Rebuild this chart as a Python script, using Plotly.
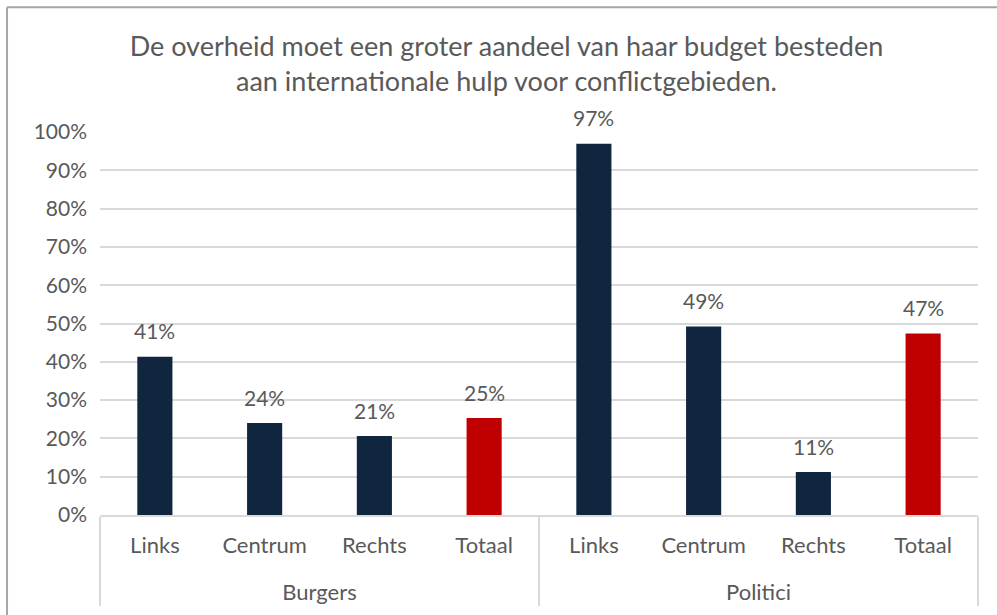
import plotly.graph_objects as go

groups = ["Burgers"] * 4 + ["Politici"] * 4
categories = ["Links", "Centrum", "Rechts", "Totaal"] * 2
values = [0.413, 0.240, 0.206, 0.253, 0.969, 0.492, 0.112, 0.474]
colors = ["#10263F", "#10263F", "#10263F", "#C00000",
          "#10263F", "#10263F", "#10263F", "#C00000"]
y_ticks = [i / 10 for i in range(11)]
title_text = ("De overheid moet een groter aandeel van haar budget besteden<br>"
              "aan internationale hulp voor conflictgebieden.")

FONT = "Lato"
GRAY = "#595959"

# display labels: extra small spacer line pushes the group level down
cat_labels = [c + "<br><span style='font-size:17px'> </span>" for c in categories]

fig = go.Figure(go.Bar(
    x=[groups, cat_labels],
    y=values,
    marker=dict(color=colors, line=dict(width=0)),
    cliponaxis=False,
    hovertemplate="%{y:.0%}<extra></extra>",
))

# value labels placed at each bar's top through the axes
for i, v in enumerate(values):
    fig.add_annotation(x=i, y=v, xref="x", yref="y", text=f"{v:.0%}",
                       showarrow=False, yanchor="middle", yshift=26,
                       font=dict(family=FONT, size=21, color=GRAY))

fig.update_layout(
    width=997, height=615,
    margin=dict(l=100, r=19, t=132, b=100),
    paper_bgcolor="white", plot_bgcolor="white",
    showlegend=False,
    bargap=0.68,
    title=dict(text=title_text, x=0.508, xanchor="center", y=0.9096, yanchor="middle",
               font=dict(family=FONT, size=27, color=GRAY)),
    font=dict(family=FONT, color=GRAY),
    yaxis=dict(range=[0, 1], tickvals=y_ticks, tickformat=".0%",
               showgrid=True, gridcolor="#D9D9D9", gridwidth=2,
               zeroline=False, showline=False, ticks="",
               tickfont=dict(family=FONT, size=21, color=GRAY),
               ticklabelstandoff=12),
    xaxis=dict(type="multicategory", showline=True, linecolor="#D9D9D9", linewidth=2,
               showdividers=True, dividercolor="#D9D9D9", dividerwidth=2,
               tickfont=dict(family=FONT, size=22, color=GRAY), ticks="",
               ticklabelstandoff=10),
    shapes=[
        dict(type="line", xref="paper", yref="paper", x0=-0.1059, x1=-0.1059, y0=1.326, y1=-0.3,
             line=dict(color="#A6A6A6", width=2)),
        dict(type="line", xref="paper", yref="paper", x0=-0.1059, x1=1.03, y0=1.326, y1=1.326,
             line=dict(color="#A6A6A6", width=2)),
    ],
)

fig.write_html("out.html", config={"displayModeBar": False},
               post_script="document.body.style.margin='0';")
